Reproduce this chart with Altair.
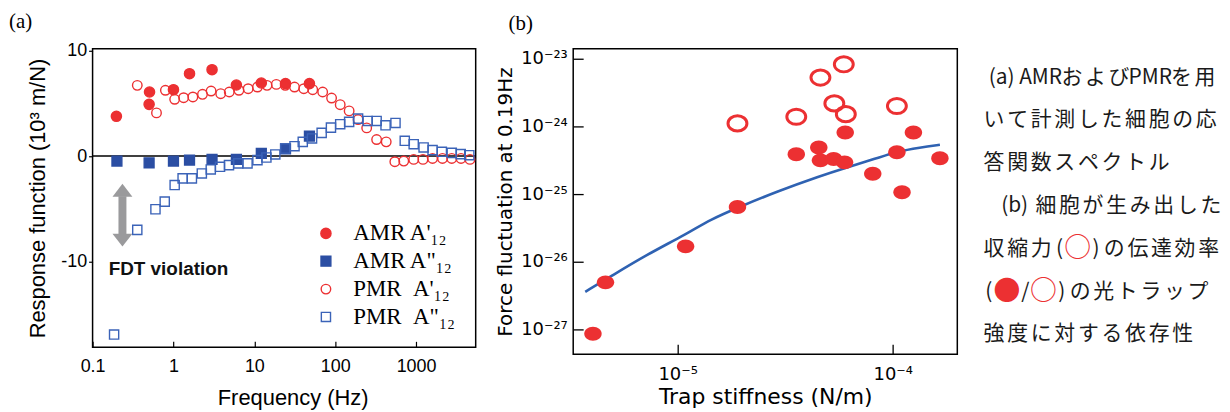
import math
import altair as alt
import pandas as pd

RED = "#ec3032"
BLUE_F = "#2b4ea3"
BLUE_O = "#3b63b8"
LINE_BLUE = "#2f62b2"
GRAY = "#9a9a9c"

# ---------------- panel (a): response function spectra ----------------
amr_re_f = [0.197, 0.506, 0.5, 1.0, 1.58, 3.0, 6.0, 12.2, 24.3, 48]
amr_re_v = [3.77, 6.07, 4.9, 6.29, 7.8, 8.18, 6.73, 6.92, 6.86, 6.86]

amr_im_f = [0.2, 0.5, 1.0, 1.58, 3.0, 6.0, 12.2, 24.3, 48]
amr_im_v = [-0.47, -0.63, -0.47, -0.38, -0.31, -0.31, 0.25, 0.69, 1.89]

pmr_re_f = [0.357, 0.617, 0.795, 1.035, 1.336, 1.739, 2.286, 2.92, 3.84, 4.90,
            6.45, 8.39, 10.93, 14.36, 18.70, 24.12, 31.4, 40.9, 52.7, 70.0,
            90.2, 115.3, 148.7, 191.8, 245.1, 325.2, 427.3, 546.0, 704.3, 934.3,
            1216.7, 1599, 2121, 2762, 3595, 4638]
pmr_re_v = [6.70, 4.09, 6.23, 5.38, 5.53, 5.60, 5.85, 6.16, 5.91, 6.07,
            6.23, 6.38, 6.54, 6.70, 6.79, 6.70, 6.54, 6.38, 6.29, 6.07,
            5.50, 4.87, 4.28, 3.46, 2.67, 1.57, 1.35, -0.53, -0.47, -0.31,
            -0.31, -0.22, -0.22, -0.22, -0.22, -0.31]

pmr_im_f = [0.1845, 0.357, 0.599, 0.78, 1.035, 1.298, 1.69, 2.243, 2.893, 3.766,
            4.859, 6.326, 8.237, 10.93, 14.1, 18.17, 24.12, 31.4, 39.7, 51.7,
            68.0, 88.6, 115.3, 148.7, 191.8, 252.1, 325.2, 419.3, 556.6, 724.4,
            934.3, 1239, 1599, 2082, 2762, 3562, 4550]
pmr_im_v = [-16.89, -6.98, -5.03, -4.31, -2.74, -2.11, -2.11, -1.64, -1.26, -1.01,
            -0.85, -0.69, -0.69, -0.38, -0.13, 0.16, 0.72, 0.94, 1.35, 1.67,
            2.20, 2.70, 3.02, 3.24, 3.55, 3.33, 3.33, 2.92, 3.14, 1.45,
            1.13, 0.82, 0.57, 0.41, 0.31, 0.19, 0.09]

series_names = ["AMR A'\u2081\u2082", 'AMR A"\u2081\u2082',
                "PMR\u00a0\u00a0A'\u2081\u2082", 'PMR\u00a0\u00a0A"\u2081\u2082']

zero_line = [0]
arrow_f = [0.234]
arrow_shaft = [(-3.8, -7.4)]
arrow_head_up = [-3.24]
arrow_head_down = [-7.95]
fdt_text = ["FDT violation"]
fdt_pos = [(0.158, -10.7)]

# ---------------- panel (b): force fluctuation vs trap stiffness ----------------
filled_k = [4.04e-6, 4.62e-6, 1.089e-5, 1.897e-5, 3.56e-5, 4.53e-5, 4.61e-5, 5.31e-5,
            5.97e-5, 6.01e-5, 8.07e-5, 1.045e-4, 1.104e-4, 1.247e-4, 1.656e-4]
filled_s = [8.7e-28, 5.0e-27, 1.70e-26, 6.46e-26, 3.89e-25, 4.90e-25, 3.16e-25, 3.31e-25,
            2.95e-25, 8.13e-25, 2.0e-25, 4.17e-25, 1.07e-25, 8.13e-25, 3.39e-25]

open_k = [1.897e-5, 3.56e-5, 4.61e-5, 5.92e-5, 5.35e-5, 6.05e-5, 1.045e-4]
open_s = [1.11e-24, 1.39e-24, 5.26e-24, 8.26e-24, 2.19e-24, 1.52e-24, 2.0e-24]

fit_k = [3.72e-6, 4.91e-6, 7.02e-6, 1.094e-5, 1.426e-5, 1.897e-5, 2.904e-5, 4.61e-5,
         5.92e-5, 8.43e-5, 1.045e-4, 1.34e-4, 1.656e-4]
fit_s = [3.63e-27, 6.17e-27, 1.23e-26, 2.57e-26, 4.27e-26, 6.31e-26, 1.10e-25, 1.86e-25,
         2.40e-25, 3.39e-25, 4.27e-25, 4.90e-25, 5.37e-25]

b_x_ticks = [1e-5, 1e-4]
b_y_ticks = [1e-27, 1e-26, 1e-25, 1e-24, 1e-23]

# ---------------- caption text ----------------
text_lines = [
    ["(a)", "AMR", "お", "よ", "び", "PMR", "を", "用"],
    list("いて計測した細胞の応"),
    list("答関数スペクトル"),
    [" ", "(b)"] + list("細胞が生み出した"),
    list("収縮力") + ["(", "○", ")"] + list("の伝達効率"),
    ["(", "●", "/", "○", ")"] + list("の光トラップ"),
    list("強度に対する依存性"),
]
red_tokens = ["○", "●"]

# ======================================================================
SUP = str.maketrans("-0123456789", "\u207b\u2070\u00b9\u00b2\u00b3\u2074\u2075\u2076\u2077\u2078\u2079")


def pow_label_expr(values):
    e = "round(log(datum.value)/LN10)"
    parts = []
    for v in values:
        p = int(round(math.log10(v)))
        parts.append(f"{e} == {p} ? '10{str(p).translate(SUP)}'")
    return " : ".join(parts) + " : ''"


# ---- panel a ----
rows = []
for f, v in zip(amr_re_f, amr_re_v):
    rows.append({"f": f, "v": v, "series": series_names[0]})
for f, v in zip(amr_im_f, amr_im_v):
    rows.append({"f": f, "v": v, "series": series_names[1]})
for f, v in zip(pmr_re_f, pmr_re_v):
    rows.append({"f": f, "v": v, "series": series_names[2]})
for f, v in zip(pmr_im_f, pmr_im_v):
    rows.append({"f": f, "v": v, "series": series_names[3]})
df_a = pd.DataFrame(rows)

xa = alt.Scale(type="log", domain=[0.1, 5458], nice=False)
ya = alt.Scale(domain=[-18.1, 10.16], nice=False, zero=False)

ax_a_x = alt.Axis(values=[0.1, 1, 10, 100, 1000], labelExpr="'' + datum.value",
                  tickSize=6, offset=-6, domain=False, grid=False, tickColor="black",
                  tickWidth=1.2, labelFont="Liberation Sans", labelFontSize=18,
                  labelColor="black", labelPadding=10, labelFlush=False, labelOverlap=False,
                  titleFont="Liberation Sans", titleFontSize=22, titleFontWeight="normal",
                  titleColor="black", titlePadding=12, titleX=201)
ax_a_y = alt.Axis(values=[-10, 0, 10], labelExpr="'' + datum.value",
                  tickSize=4, domain=False, grid=False, tickColor="black", tickWidth=1.2,
                  labelFont="Liberation Sans", labelFontSize=18, labelColor="black",
                  labelPadding=2, labelFlush=False, labelOverlap=False,
                  titleFont="Liberation Sans", titleFontSize=22, titleFontWeight="normal",
                  titleColor="black", titlePadding=11)

zero_rule = alt.Chart(pd.DataFrame({"v": zero_line})).mark_rule(
    color="black", strokeWidth=1.5).encode(y=alt.Y("v:Q", scale=ya, axis=ax_a_y,
                                                   title="Response function  (10³ m/N)"))

shaft = alt.Chart(pd.DataFrame({"f": arrow_f, "y1": [arrow_shaft[0][0]],
                                "y2": [arrow_shaft[0][1]]})).mark_rule(
    color=GRAY, strokeWidth=8).encode(
    x=alt.X("f:Q", scale=xa), y=alt.Y("y1:Q", scale=ya), y2="y2:Q")

head_up = alt.Chart(pd.DataFrame({"f": arrow_f, "v": arrow_head_up})).mark_point(
    shape="M0,-0.65L1,0.65L-1,0.65Z", filled=True, fill=GRAY, opacity=1, size=400,
    strokeWidth=0).encode(x=alt.X("f:Q", scale=xa), y=alt.Y("v:Q", scale=ya))
head_down = alt.Chart(pd.DataFrame({"f": arrow_f, "v": arrow_head_down})).mark_point(
    shape="M0,0.65L1,-0.65L-1,-0.65Z", filled=True, fill=GRAY, opacity=1, size=400,
    strokeWidth=0).encode(x=alt.X("f:Q", scale=xa), y=alt.Y("v:Q", scale=ya))

fdt = alt.Chart(pd.DataFrame({"f": [fdt_pos[0][0]], "v": [fdt_pos[0][1]],
                              "t": fdt_text})).mark_text(
    font="Liberation Sans", fontWeight="bold", fontSize=19, align="left",
    baseline="middle", color="#111111").encode(
    x=alt.X("f:Q", scale=xa), y=alt.Y("v:Q", scale=ya), text="t:N")

leg = alt.Legend(title=None, orient="none", legendX=223, legendY=174,
                 labelFont="Liberation Serif", labelFontSize=23, labelColor="black",
                 symbolStrokeWidth=1.4, labelOffset=16, rowPadding=4, padding=0,
                 symbolOpacity=1)

points_a = alt.Chart(df_a).mark_point(opacity=1, strokeWidth=1.4, filled=False).encode(
    x=alt.X("f:Q", scale=xa, axis=ax_a_x, title="Frequency (Hz)"),
    y=alt.Y("v:Q", scale=ya),
    shape=alt.Shape("series:N", scale=alt.Scale(domain=series_names,
                                                range=["circle", "square", "circle", "square"]),
                    legend=leg),
    fill=alt.Fill("series:N", scale=alt.Scale(domain=series_names,
                                              range=[RED, BLUE_F, "transparent", "transparent"]),
                  legend=leg),
    stroke=alt.Stroke("series:N", scale=alt.Scale(domain=series_names,
                                                  range=[RED, BLUE_F, RED, BLUE_O]),
                      legend=leg),
    size=alt.Size("series:N", scale=alt.Scale(domain=series_names, range=[105, 85, 95, 58]),
                  legend=leg),
)

panel_a = alt.layer(zero_rule, shaft, head_up, head_down, fdt, points_a).properties(
    width=385, height=300,
    title=alt.TitleParams("(a)", anchor="start", frame="group", dx=-84, offset=10,
                          font="Liberation Serif", fontSize=21, fontWeight="normal",
                          color="black"))

# ---- panel b ----
xb = alt.Scale(type="log", domain=[3.27e-6, 1.995e-4], nice=False)
yb = alt.Scale(type="log", domain=[4.34e-28, 1.40e-23], nice=False)

ax_b_x = alt.Axis(values=b_x_ticks, labelExpr=pow_label_expr(b_x_ticks),
                  tickSize=10, offset=-10, domain=False, grid=False, tickColor="black",
                  tickWidth=1.3, labelFont="DejaVu Sans", labelFontSize=18,
                  labelColor="black", labelPadding=11, labelFlush=False, labelOverlap=False,
                  titleFont="DejaVu Sans", titleFontSize=22, titleFontWeight="normal",
                  titleColor="black", titlePadding=3)
ax_b_y = alt.Axis(values=b_y_ticks, labelExpr=pow_label_expr(b_y_ticks),
                  tickSize=10, offset=-10, domain=False, grid=False, tickColor="black",
                  tickWidth=1.3, labelFont="DejaVu Sans", labelFontSize=18,
                  labelColor="black", labelPadding=6, labelFlush=False, labelOverlap=False,
                  titleFont="DejaVu Sans", titleFontSize=20, titleFontWeight="normal",
                  titleColor="black", titlePadding=5)

fit = alt.Chart(pd.DataFrame({"k": fit_k, "s": fit_s})).mark_line(
    color=LINE_BLUE, strokeWidth=2.6, interpolate="basis").encode(
    x=alt.X("k:Q", scale=xb, axis=ax_b_x, title="Trap stiffness (N/m)"),
    y=alt.Y("s:Q", scale=yb, axis=ax_b_y, title="Force fluctuation at 0.19Hz"))

ELL = "M-1,0A1,0.8,0,1,1,1,0A1,0.8,0,1,1,-1,0Z"

filled_b = alt.Chart(pd.DataFrame({"k": filled_k, "s": filled_s})).mark_point(
    shape=ELL, filled=True, fill=RED, opacity=1, size=306, strokeWidth=0).encode(
    x=alt.X("k:Q", scale=xb), y=alt.Y("s:Q", scale=yb))
open_b = alt.Chart(pd.DataFrame({"k": open_k, "s": open_s})).mark_point(
    shape=ELL, filled=False, stroke=RED, opacity=1, size=361, strokeWidth=3).encode(
    x=alt.X("k:Q", scale=xb), y=alt.Y("s:Q", scale=yb))

panel_b = alt.layer(fit, filled_b, open_b).properties(
    width=386, height=307,
    title=alt.TitleParams("(b)", anchor="start", frame="group", dx=-65, offset=15,
                          font="Liberation Serif", fontSize=21, fontWeight="normal",
                          color="black"))

# ---- caption ----
trows = []
for r, toks in enumerate(text_lines):
    pos = 0.0
    for t in toks:
        w = 1.0 if ord(t[0]) > 0x2000 else 0.55 * len(t)
        if t.strip():
            is_sym = t in red_tokens
            trows.append({"row": r, "col": pos + w / 2, "tok": t,
                          "clr": RED if is_sym else "#1a1a1a",
                          "fs": 27 if is_sym else 21})
        pos += w
df_t = pd.DataFrame(trows)

caption = alt.Chart(df_t).mark_text(font="Noto Sans CJK JP", align="center",
                                    baseline="middle").encode(
    x=alt.X("col:Q", scale=alt.Scale(domain=[-0.34, 10], nice=False, zero=False), axis=None),
    y=alt.Y("row:Q", scale=alt.Scale(domain=[-0.674, 6.465], nice=False, zero=False,
                                     reverse=True), axis=None),
    text="tok:N",
    color=alt.Color("clr:N", scale=None),
    size=alt.Size("fs:Q", scale=None),
).properties(width=245, height=307, view=alt.ViewBackground(strokeOpacity=0))

chart = alt.hconcat(panel_a, panel_b, caption, spacing=16).resolve_scale(
    shape="independent", fill="independent", stroke="independent", size="independent",
    color="independent"
).resolve_legend(
    shape="independent", fill="independent", stroke="independent", size="independent",
    color="independent"
).properties(
    padding=0, background="white"
).configure_view(stroke="black", strokeWidth=1.5)

chart.save("out.html", embed_options={"renderer": "svg", "actions": False})
